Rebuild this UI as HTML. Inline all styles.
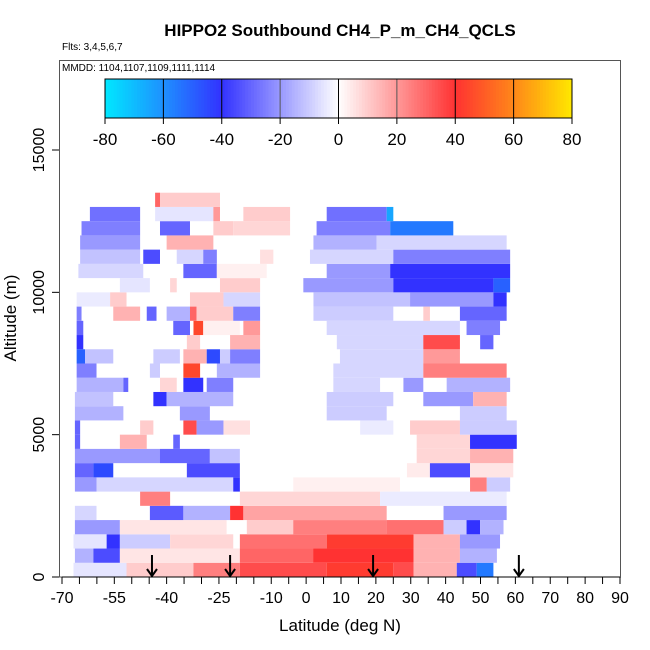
<!DOCTYPE html>
<html><head><meta charset="utf-8">
<style>
html,body{margin:0;padding:0;background:#fff;}
svg{display:block;font-family:"Liberation Sans",sans-serif;}
</style></head>
<body>
<svg id="chart" width="650" height="650" viewBox="0 0 650 650" xmlns="http://www.w3.org/2000/svg">
<rect width="650" height="650" fill="#fff"/>
<text x="340" y="36" text-anchor="middle" font-size="17" font-weight="bold">HIPPO2 Southbound CH4_P_m_CH4_QCLS</text>
<text x="62" y="50" font-size="10">Flts: 3,4,5,6,7</text>
<text x="62" y="71" font-size="10">MMDD: 1104,1107,1109,1111,1114</text>
<g id="heat"></g>
<g id="arrows"></g>
<g id="cbar"></g>
<g id="axes"></g>
<text x="340" y="631" text-anchor="middle" font-size="17">Latitude (deg N)</text>
<text transform="translate(16,318) rotate(-90)" text-anchor="middle" font-size="17">Altitude (m)</text>
</svg>
<script>
// ---- data ----
const altBinSize = 500; // m per row
const rowSegments = [
 [[-66.7,-51.5,-5],[-51.5,-32.3,10],[-32.3,-19,25],[-19,5.9,35],[5.9,25,42],[25,30.8,35],[30.8,43.2,15],[43.2,48.9,-35],[48.9,53.7,-55]],
 [[-66.3,-61,-15],[-61,-53.4,-35],[-53.4,-19,5],[-19,2,30],[2,30.8,40],[30.8,44.1,15],[44.1,54.7,-15]],
 [[-66.7,-57.2,-5],[-57.2,-53.4,-40],[-53.4,-39,-10],[-39,-20.9,8],[-19,5.9,28],[5.9,30.8,42],[30.8,44.1,15],[44.1,55.6,-20]],
 [[-66.3,-53.4,-20],[-53.4,-22.8,5],[-17,-3.7,10],[-3.7,23,25],[23,39.4,28],[39.4,46,-10],[46,49.9,-40],[49.9,56.6,-15]],
 [[-66.3,-60.1,-8],[-44.8,-35.2,-32],[-35.2,-21.8,-15],[-21.8,-18,40],[-18,23.1,18],[39.4,57.5,-20]],
 [[-47.6,-39,25],[-19,21.2,8],[21.2,57.5,-4]],
 [[-66.3,-60.1,-20],[-60.1,-20.9,-8],[-20.9,-19,-40],[-3.7,26.9,3],[47,51.8,25],[51.8,58.5,-10]],
 [[-66.3,-61,-30],[-61,-55.3,-45],[-34.2,-19,-35],[28.9,35.5,4],[35.5,47,-35],[47,59.4,5]],
 [[-66.3,-41.9,-20],[-41.9,-27.6,-30],[-27.6,-19,-12],[31.7,47,8],[47,59.4,15]],
 [[-66.3,-64.8,-30],[-53.4,-45.7,15],[-38.1,-36.2,-30],[31.7,47,8],[47,60.4,-40]],
 [[-66.3,-64.8,-30],[-47.6,-43.8,10],[-35.2,-31.4,35],[-31.4,-23.7,-20],[-23.7,-16.1,6],[15.5,25,-4],[29.8,44.1,10],[44.1,60.4,-10]],
 [[-66.3,-52.4,-15],[-36.2,-27.6,-20],[5.9,23.1,-10],[44.1,57.5,-10]],
 [[-66.3,-55.3,-12],[-43.8,-40,-40],[-40,-20.9,-15],[5.9,25,-10],[33.6,47.9,-20],[47.9,57.5,15]],
 [[-65.8,-52.4,-15],[-52.4,-51,-30],[-41.9,-37.1,8],[-35.2,-29.5,-40],[-28.5,-20.9,-25],[7.8,21.2,-8],[27.9,33.6,-20],[40.3,58.5,-15]],
 [[-65.8,-60.1,-25],[-44.8,-41.9,-10],[-35.2,-30.4,45],[-25.6,-13.2,-15],[7.8,33.6,-8],[33.6,57.5,25]],
 [[-65.8,-63.4,-50],[-63.4,-55.3,-12],[-43.8,-36.2,-10],[-35.2,-28.5,15],[-28.5,-24.7,-45],[-24.7,-21.8,-10],[-21.8,-13.2,-25],[9.7,33.6,-8],[33.6,44.1,20]],
 [[-65.8,-63.9,-40],[-34.2,-30.4,10],[-21.8,-13.2,15],[8.8,33.6,-8],[33.6,44.1,35],[49.9,53.7,-30]],
 [[-65.8,-63.9,-30],[-38.1,-33.3,-30],[-32.3,-29.5,45],[-29.5,-19,3],[-18,-13.2,20],[5.9,44.1,-8],[46,55.6,-25]],
 [[-65.8,-64.4,-25],[-55.3,-47.6,15],[-45.7,-42.9,-30],[-40,-33.3,-15],[-33.3,-31.4,30],[-31.4,-20.9,10],[-20.9,-13.2,-25],[2.1,25,-10],[33.6,35.5,10],[44.1,57.5,-30]],
 [[-65.8,-56.2,-4],[-56.2,-51.5,10],[-33.3,-23.7,10],[-23.7,-13.2,-8],[2.1,29.8,-12],[29.8,53.7,-20],[53.7,57.5,-40]],
 [[-53.4,-44.8,-5],[-39,-37.1,8],[-24.7,-13.2,10],[-0.8,25,-20],[25,53.7,-40],[53.7,58.5,-50]],
 [[-65.3,-46.7,-8],[-35.2,-25.6,-30],[-25.6,-11.3,3],[5.9,24.1,-20],[24.1,58.5,-40]],
 [[-64.8,-47.6,-12],[-46.7,-41.9,-35],[-37.1,-29.5,-8],[-29.5,-25.6,-25],[-13.2,-9.4,6],[1.1,25,-8],[25,58.5,-25]],
 [[-64.8,-47.6,-20],[-40,-26.6,15],[2.1,20.2,-15],[20.2,57.5,-8]],
 [[-64.4,-47.6,-25],[-41.9,-33.3,-30],[-26.6,-20.9,10],[-20.9,-4.6,8],[3,24.1,-25],[24.1,42.2,-55]],
 [[-62,-47.6,-28],[-43.3,-26.6,-5],[-26.6,-24.7,20],[-18,-4.6,10],[5.9,23.1,-28],[23.1,25,-65]],
 [[-43.3,-41.9,30],[-41.9,-24.7,10]]
];
const arrowLats = [-44.2, -21.8, 19.2, 61];
const xTickValues = [-70,-65,-60,-55,-50,-45,-40,-35,-30,-25,-20,-15,-10,-5,0,5,10,15,20,25,30,35,40,45,50,55,60,65,70,75,80,85,90];
const xTickLabels = [-70,-55,-40,-25,-10,0,10,20,30,40,50,60,70,80,90];
const yTickLabels = [0,5000,10000,15000];
const cbarTickLabels = [-80,-60,-40,-20,0,20,40,60,80];

// ---- scales ----
const X0=62, X1=620, LAT0=-70, LAT1=90;
const Y0=577, ALT_PX=427/15000;
const xs = lat => X0 + (lat-LAT0)*(X1-X0)/(LAT1-LAT0);
const ys = alt => Y0 - alt*ALT_PX;
const stops=[[-80,[0,232,255]],[-60,[30,144,255]],[-40,[50,50,255]],[0,[255,255,255]],[40,[255,50,50]],[60,[255,135,25]],[80,[255,232,0]]];
function color(v){
  v=Math.max(-80,Math.min(80,v));
  for(let i=0;i<stops.length-1;i++){
    const [a,ca]=stops[i],[b,cb]=stops[i+1];
    if(v>=a&&v<=b){const t=(v-a)/(b-a);
      return 'rgb('+ca.map((c,j)=>Math.round(c+(cb[j]-c)*t)).join(',')+')';}
  }
  return '#fff';
}
const NS='http://www.w3.org/2000/svg';
function mk(tag,attrs,parent){const e=document.createElementNS(NS,tag);for(const k in attrs)e.setAttribute(k,attrs[k]);parent.appendChild(e);return e;}

// heatmap
const heat=document.getElementById('heat');
rowSegments.forEach((segs,r)=>{
  const yT=ys((r+1)*altBinSize), yB=ys(r*altBinSize);
  segs.forEach(s=>{
    const el=mk('rect',{x:xs(s[0]),y:yT,width:xs(s[1])-xs(s[0]),height:yB-yT,fill:color(s[2])},heat);
    
    
  });
});

// arrows
const ar=document.getElementById('arrows');
arrowLats.forEach(l=>{
  const x=xs(l);
  const g=mk('g',{stroke:'#000','stroke-width':2,fill:'none'},ar);
  
  
  mk('line',{x1:x,y1:555,x2:x,y2:576},g);
  mk('polyline',{points:(x-5)+',569 '+x+',576 '+(x+5)+',569'},g);
});

// colorbar
const cb=document.getElementById('cbar');
const CB0=105, CB1=572, CBT=79, CBB=118;
const cx=v=>CB0+(v+80)*(CB1-CB0)/160;
for(let v=-80;v<80;v+=1){
  mk('rect',{x:cx(v),y:CBT,width:cx(v+1)-cx(v)+0.5,height:CBB-CBT,fill:color(v+0.5)},cb);
}
cbarTickLabels.forEach(v=>{
  const x=cx(v);
  if(v>-80&&v<80) mk('line',{x1:x,y1:CBT,x2:x,y2:CBB,stroke:(v==-20||v==20)?'#555':'#000','stroke-width':1},cb);
  mk('line',{x1:x,y1:CBB,x2:x,y2:CBB+6,stroke:'#000'},cb);
  const t=mk('text',{x:x,y:CBB+27,'text-anchor':'middle','font-size':17},cb);
  t.textContent=v;
  
  
});
mk('rect',{x:CB0,y:CBT,width:CB1-CB0,height:CBB-CBT,fill:'none',stroke:'#000'},cb);

// axes
const ax=document.getElementById('axes');
const box=mk('rect',{x:59.5,y:60.5,width:561,height:516.5,fill:'none',stroke:'#555','stroke-width':1},ax);


mk('line',{x1:X0,y1:Y0,x2:X1,y2:Y0,stroke:'#000'},ax);
xTickValues.forEach(v=>{mk('line',{x1:xs(v),y1:Y0,x2:xs(v),y2:Y0+7,stroke:'#000'},ax);});
xTickLabels.forEach(v=>{
  const t=mk('text',{x:xs(v),y:603,'text-anchor':'middle','font-size':16},ax);
  t.textContent=v;
  
  
});
yTickLabels.forEach(v=>{
  const y=ys(v);
  mk('line',{x1:52,y1:y,x2:59,y2:y,stroke:'#000'},ax);
  const t=mk('text',{transform:'translate(44,'+y+') rotate(-90)','text-anchor':'middle','font-size':16},ax);
  t.textContent=v;
  
  
});
</script>
</body></html>
